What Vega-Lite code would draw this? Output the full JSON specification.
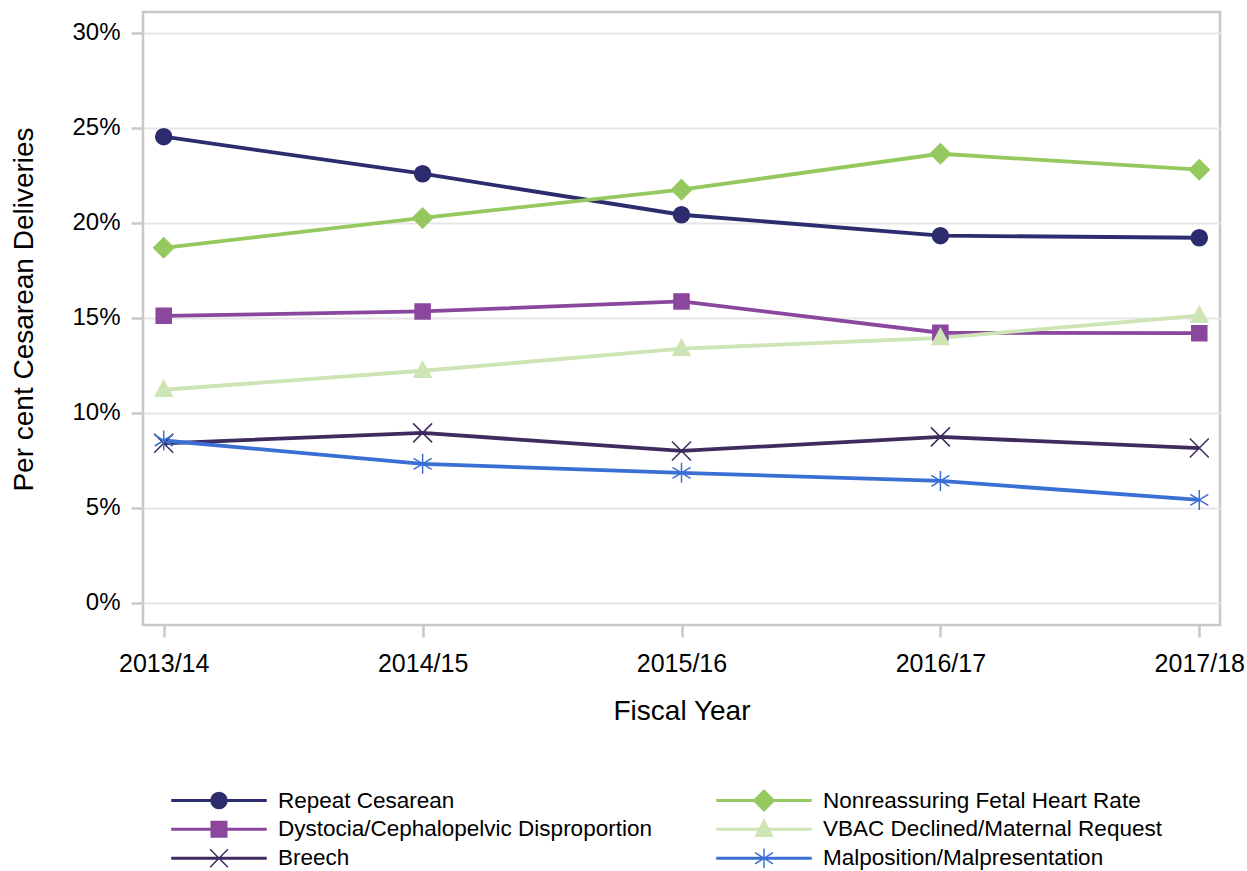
{
  "$schema": "https://vega.github.io/schema/vega-lite/v6.json",
  "width": 1077,
  "height": 613,
  "autosize": {"type": "none"},
  "padding": {"left": 143, "top": 12, "right": 27, "bottom": 246},
  "background": "white",
  "config": {
    "font": "Liberation Sans",
    "view": {"stroke": "#c8c8c8", "strokeWidth": 2.5},
    "axis": {
      "domain": false,
      "tickColor": "#c8c8c8",
      "tickWidth": 2.5,
      "tickSize": 12,
      "labelFont": "Liberation Sans",
      "labelFontSize": 24,
      "labelColor": "#000000",
      "titleFont": "Liberation Sans",
      "titleFontSize": 28,
      "titleFontWeight": "normal",
      "titleColor": "#000000"
    }
  },
  "data": {
    "values": [
      {"series": "Repeat Cesarean", "year": "2013/14", "pct": 24.54},
      {"series": "Repeat Cesarean", "year": "2014/15", "pct": 22.59},
      {"series": "Repeat Cesarean", "year": "2015/16", "pct": 20.43},
      {"series": "Repeat Cesarean", "year": "2016/17", "pct": 19.33},
      {"series": "Repeat Cesarean", "year": "2017/18", "pct": 19.22},
      {"series": "Nonreassuring Fetal Heart Rate", "year": "2013/14", "pct": 18.69},
      {"series": "Nonreassuring Fetal Heart Rate", "year": "2014/15", "pct": 20.26},
      {"series": "Nonreassuring Fetal Heart Rate", "year": "2015/16", "pct": 21.75},
      {"series": "Nonreassuring Fetal Heart Rate", "year": "2016/17", "pct": 23.64},
      {"series": "Nonreassuring Fetal Heart Rate", "year": "2017/18", "pct": 22.8},
      {"series": "Dystocia/Cephalopelvic Disproportion", "year": "2013/14", "pct": 15.11},
      {"series": "Dystocia/Cephalopelvic Disproportion", "year": "2014/15", "pct": 15.34},
      {"series": "Dystocia/Cephalopelvic Disproportion", "year": "2015/16", "pct": 15.87},
      {"series": "Dystocia/Cephalopelvic Disproportion", "year": "2016/17", "pct": 14.22},
      {"series": "Dystocia/Cephalopelvic Disproportion", "year": "2017/18", "pct": 14.2},
      {"series": "VBAC Declined/Maternal Request", "year": "2013/14", "pct": 11.22},
      {"series": "VBAC Declined/Maternal Request", "year": "2014/15", "pct": 12.22},
      {"series": "VBAC Declined/Maternal Request", "year": "2015/16", "pct": 13.38},
      {"series": "VBAC Declined/Maternal Request", "year": "2016/17", "pct": 13.95},
      {"series": "VBAC Declined/Maternal Request", "year": "2017/18", "pct": 15.12},
      {"series": "Breech", "year": "2013/14", "pct": 8.4},
      {"series": "Breech", "year": "2014/15", "pct": 8.95},
      {"series": "Breech", "year": "2015/16", "pct": 8.0},
      {"series": "Breech", "year": "2016/17", "pct": 8.74},
      {"series": "Breech", "year": "2017/18", "pct": 8.15},
      {"series": "Malposition/Malpresentation", "year": "2013/14", "pct": 8.55},
      {"series": "Malposition/Malpresentation", "year": "2014/15", "pct": 7.32},
      {"series": "Malposition/Malpresentation", "year": "2015/16", "pct": 6.85},
      {"series": "Malposition/Malpresentation", "year": "2016/17", "pct": 6.42},
      {"series": "Malposition/Malpresentation", "year": "2017/18", "pct": 5.42}
    ]
  },
  "encoding": {
    "x": {
      "field": "year",
      "type": "ordinal",
      "scale": {"type": "point", "padding": 0.08, "domain": ["2013/14", "2014/15", "2015/16", "2016/17", "2017/18"]},
      "axis": {"title": "Fiscal Year", "labelAngle": 0, "labelFontSize": 25, "labelPadding": 14, "titlePadding": 21, "grid": false}
    },
    "y": {
      "field": "pct",
      "type": "quantitative",
      "scale": {"domain": [-1.16, 31.1], "nice": false, "zero": false},
      "axis": {
        "title": "Per cent Cesarean Deliveries",
        "values": [0, 5, 10, 15, 20, 25, 30],
        "labelExpr": "datum.value + '%'",
        "labelPadding": 11,
        "titlePadding": 33,
        "titleY": 297,
        "grid": true,
        "gridColor": "#e6e6e6",
        "gridWidth": 2
      }
    },
    "color": {
      "field": "series",
      "type": "nominal",
      "scale": {
        "domain": ["Repeat Cesarean", "Nonreassuring Fetal Heart Rate", "Dystocia/Cephalopelvic Disproportion", "VBAC Declined/Maternal Request", "Breech", "Malposition/Malpresentation"],
        "range": ["#2c2c6e", "#95c95f", "#8b479e", "#cde5b4", "#3e2c5f", "#3a6fd4"]
      },
      "legend": null
    },
    "stroke": {
      "field": "series",
      "type": "nominal",
      "scale": {
        "domain": ["Repeat Cesarean", "Nonreassuring Fetal Heart Rate", "Dystocia/Cephalopelvic Disproportion", "VBAC Declined/Maternal Request", "Breech", "Malposition/Malpresentation"],
        "range": ["#2c2c6e", "#95c95f", "#8b479e", "#cde5b4", "#3e2c5f", "#3a6fd4"]
      },
      "legend": null
    }
  },
  "layer": [
    {
      "mark": {"type": "line", "strokeWidth": 3.8}
    },
    {
      "mark": {"type": "point", "filled": true, "size": 400, "strokeWidth": 1.5, "opacity": 1},
      "encoding": {
        "shape": {
          "field": "series",
          "type": "nominal",
          "scale": {
            "domain": ["Repeat Cesarean", "Nonreassuring Fetal Heart Rate", "Dystocia/Cephalopelvic Disproportion", "VBAC Declined/Maternal Request", "Breech", "Malposition/Malpresentation"],
            "range": [
              "M-0.8,0A0.8,0.8,0,1,1,0.8,0A0.8,0.8,0,1,1,-0.8,0Z",
              "M0,-1.0L1.0,0L0,1.0L-1.0,0Z",
              "M-0.75,-0.75H0.75V0.75H-0.75Z",
              "M0,-0.92L0.85,0.65L-0.85,0.65Z",
              "M-0.95,-0.95L0.95,0.95M-0.95,0.95L0.95,-0.95",
              "M0,-1L0,1M-0.9,-0.55L0.9,0.55M-0.9,0.55L0.9,-0.55"
            ]
          },
          "legend": null
        }
      }
    },
    {
      "transform": [{"filter": "false"}],
      "mark": {"type": "point", "filled": true, "strokeWidth": 1.5, "opacity": 1},
      "encoding": {
        "color": {
          "field": "series",
          "type": "nominal",
          "scale": {
            "domain": ["Repeat Cesarean", "Nonreassuring Fetal Heart Rate", "Dystocia/Cephalopelvic Disproportion", "VBAC Declined/Maternal Request", "Breech", "Malposition/Malpresentation"],
            "range": ["#2c2c6e", "#95c95f", "#8b479e", "#cde5b4", "#3e2c5f", "#3a6fd4"]
          },
          "legend": {
            "title": null,
            "orient": "none",
            "legendX": 28,
            "legendY": 775,
            "columns": 2,
            "direction": "horizontal",
            "symbolSize": 8836,
            "symbolStrokeWidth": 1.5,
            "clipHeight": 26.5,
            "rowPadding": 2,
            "columnPadding": 64,
            "labelOffset": 11,
            "labelFont": "Liberation Sans",
            "labelFontSize": 22.5,
            "labelColor": "#000000",
            "labelLimit": 600
          }
        },
        "stroke": {
          "field": "series",
          "type": "nominal",
          "scale": {
            "domain": ["Repeat Cesarean", "Nonreassuring Fetal Heart Rate", "Dystocia/Cephalopelvic Disproportion", "VBAC Declined/Maternal Request", "Breech", "Malposition/Malpresentation"],
            "range": ["#2c2c6e", "#95c95f", "#8b479e", "#cde5b4", "#3e2c5f", "#3a6fd4"]
          },
          "legend": {
            "title": null,
            "orient": "none",
            "legendX": 28,
            "legendY": 775,
            "columns": 2,
            "direction": "horizontal",
            "symbolSize": 8836,
            "symbolStrokeWidth": 1.5,
            "clipHeight": 26.5,
            "rowPadding": 2,
            "columnPadding": 64,
            "labelOffset": 11,
            "labelFont": "Liberation Sans",
            "labelFontSize": 22.5,
            "labelColor": "#000000",
            "labelLimit": 600
          }
        },
        "shape": {
          "field": "series",
          "type": "nominal",
          "scale": {
            "domain": ["Repeat Cesarean", "Nonreassuring Fetal Heart Rate", "Dystocia/Cephalopelvic Disproportion", "VBAC Declined/Maternal Request", "Breech", "Malposition/Malpresentation"],
            "range": [
              "M-1,-0.016H1V0.016H-1ZM-0.17,0A0.17,0.17,0,1,1,0.17,0A0.17,0.17,0,1,1,-0.17,0Z",
              "M-1,-0.016H1V0.016H-1ZM0,-0.22L0.22,0L0,0.22L-0.22,0Z",
              "M-1,-0.016H1V0.016H-1ZM-0.165,-0.165H0.165V0.165H-0.165Z",
              "M-1,-0.016H1V0.016H-1ZM0,-0.2L0.18,0.15L-0.18,0.15Z",
              "M-1,-0.016H1V0.016H-1ZM-0.19,-0.19L0.19,0.19M-0.19,0.19L0.19,-0.19",
              "M-1,-0.016H1V0.016H-1ZM0,-0.21L0,0.21M-0.19,-0.12L0.19,0.12M-0.19,0.12L0.19,-0.12"
            ]
          },
          "legend": {
            "title": null,
            "orient": "none",
            "legendX": 28,
            "legendY": 775,
            "columns": 2,
            "direction": "horizontal",
            "symbolSize": 8836,
            "symbolStrokeWidth": 1.5,
            "clipHeight": 26.5,
            "rowPadding": 2,
            "columnPadding": 64,
            "labelOffset": 11,
            "labelFont": "Liberation Sans",
            "labelFontSize": 22.5,
            "labelColor": "#000000",
            "labelLimit": 600
          }
        }
      }
    }
  ],
  "resolve": {"scale": {"shape": "independent", "color": "independent", "stroke": "independent"}}
}
